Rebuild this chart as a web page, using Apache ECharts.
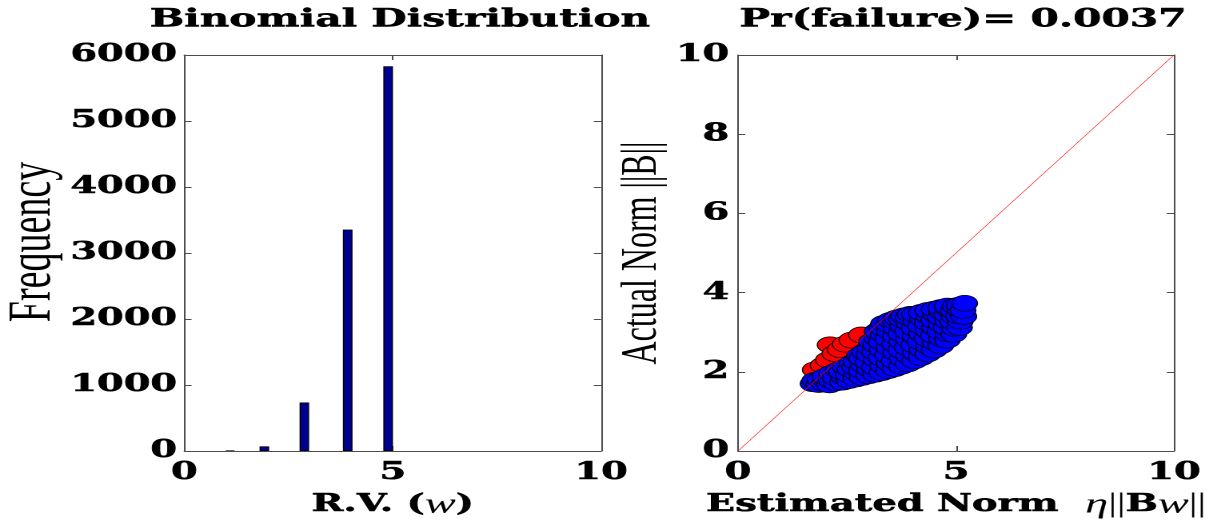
<!DOCTYPE html>
<html>
<head>
<meta charset="utf-8">
<script src="https://cdn.jsdelivr.net/npm/echarts@6/dist/echarts.min.js"></script>
<style>
  html, body { margin: 0; padding: 0; background: #fff; }
  #wrap { width: 1225px; height: 521px; overflow: hidden; background: #fff; }
  /* the figure is laid out narrow and stretched sideways */
  #chart { width: 766px; height: 521px; transform: scaleX(1.59922); transform-origin: 0 0; }
</style>
</head>
<body>
<div id="wrap"><div id="chart"></div></div>
<script>
// Histogram of the random variable w
const binCenters = [1.1, 1.92, 2.88, 3.92, 4.89];
const frequency = [10, 70, 735, 3355, 5830];

// Estimated vs actual norm: failures (actual above estimate) and passes
const failPoints = [
  [1.77, 2.05], [1.95, 2.16], [2.07, 2.30], [2.11, 2.68], [2.22, 2.46],
  [2.34, 2.56], [2.46, 2.70], [2.61, 2.80], [2.83, 2.93]
];
const passPoints = [
  [1.72, 1.70], [1.76, 1.78],
  [1.85, 1.68], [1.88, 1.80],
  [1.98, 1.70], [2.01, 1.80], [1.99, 1.88],
  [2.10, 1.67], [2.13, 1.79], [2.14, 1.96],
  [2.25, 1.72], [2.23, 1.86], [2.30, 2.04],
  [2.40, 1.74], [2.42, 1.88], [2.38, 2.00], [2.46, 2.12],
  [2.55, 1.78], [2.53, 1.93], [2.57, 2.06], [2.62, 2.22],
  [2.70, 1.82], [2.72, 1.98], [2.68, 2.12], [2.71, 2.26], [2.78, 2.40],
  [2.85, 1.86], [2.83, 2.03], [2.87, 2.18], [2.84, 2.34], [2.90, 2.50],
  [3.00, 1.90], [3.02, 2.07], [2.98, 2.25], [3.01, 2.43], [3.03, 2.60], [3.06, 2.76],
  [3.15, 1.94], [3.13, 2.12], [3.17, 2.31], [3.14, 2.50], [3.16, 2.68], [3.18, 2.86], [3.19, 3.02],
  [3.30, 1.98], [3.32, 2.16], [3.28, 2.36], [3.31, 2.55], [3.29, 2.75], [3.33, 2.95], [3.30, 3.12], [3.34, 3.22],
  [3.45, 2.03], [3.47, 2.22], [3.43, 2.42], [3.46, 2.62], [3.44, 2.82], [3.48, 3.02], [3.45, 3.20], [3.50, 3.30],
  [3.60, 2.08], [3.58, 2.28], [3.62, 2.48], [3.59, 2.70], [3.61, 2.90], [3.63, 3.10], [3.60, 3.28], [3.64, 3.36],
  [3.75, 2.14], [3.77, 2.34], [3.73, 2.55], [3.76, 2.76], [3.74, 2.96], [3.78, 3.16], [3.75, 3.34], [3.80, 3.41],
  [3.90, 2.20], [3.92, 2.40], [3.88, 2.62], [3.91, 2.82], [3.89, 3.02], [3.93, 3.22], [3.90, 3.38], [3.95, 3.45],
  [4.05, 2.28], [4.07, 2.48], [4.03, 2.68], [4.06, 2.90], [4.04, 3.10], [4.08, 3.28], [4.05, 3.45],
  [4.20, 2.36], [4.22, 2.56], [4.18, 2.76], [4.21, 2.96], [4.19, 3.16], [4.23, 3.34], [4.20, 3.50],
  [4.35, 2.45], [4.37, 2.64], [4.33, 2.84], [4.36, 3.04], [4.34, 3.24], [4.38, 3.40], [4.35, 3.55],
  [4.50, 2.55], [4.52, 2.74], [4.48, 2.92], [4.51, 3.12], [4.49, 3.30], [4.53, 3.46], [4.50, 3.58],
  [4.65, 2.66], [4.67, 2.84], [4.63, 3.02], [4.66, 3.20], [4.64, 3.38], [4.68, 3.52], [4.65, 3.62],
  [4.80, 2.80], [4.82, 2.96], [4.78, 3.12], [4.81, 3.28], [4.79, 3.44], [4.83, 3.58], [4.80, 3.66],
  [4.95, 2.95], [4.97, 3.10], [4.93, 3.26], [4.96, 3.40], [4.94, 3.54], [4.98, 3.66],
  [5.08, 3.12], [5.10, 3.28], [5.06, 3.42], [5.09, 3.56], [5.07, 3.68],
  [5.18, 3.40], [5.16, 3.55], [5.20, 3.73]
];
// y = x reference line
const identityLine = [[0, 0], [10, 10]];
const failureRate = 0.0037;

const boldSerif = 'DejaVu Serif';
const axisColor = '#4d4d4d';
// heavy bold text: DejaVu Serif Bold with a thin outline in the same colour
const heavy = { fontFamily: boldSerif, fontWeight: 'bold', color: '#000', textBorderColor: '#000', textBorderWidth: 0.5 };
const tickLabel = Object.assign({ fontSize: 24, lineHeight: 18 }, heavy);

function boxAxis(extra) {
  return Object.assign({
    type: 'value',
    axisLine: { show: true, onZero: false, lineStyle: { color: axisColor, width: 1 } },
    axisTick: { show: true, inside: true, length: 4.5, lineStyle: { color: axisColor, width: 1 } },
    splitLine: { show: false },
    axisLabel: { show: false }
  }, extra);
}

const nameRich = {
  b: Object.assign({ fontSize: 24 }, heavy),
  i: { fontFamily: 'Liberation Serif', fontStyle: 'italic', fontSize: 29, color: '#000' },
  n: { fontFamily: 'Liberation Serif', fontSize: 27, color: '#000' }
};

const chart = echarts.init(document.getElementById('chart'), null, {
  renderer: 'canvas', devicePixelRatio: 2, width: 766, height: 521
});

chart.setOption({
  animation: false,
  backgroundColor: '#fff',
  title: [
    {
      text: 'Binomial Distribution', left: 245.1, top: 2, textAlign: 'center',
      textStyle: Object.assign({ fontSize: 25.5 }, heavy)
    },
    {
      text: 'Pr(failure)= ' + failureRate.toFixed(4), left: 597.2, top: 2, textAlign: 'center',
      textStyle: Object.assign({ fontSize: 25.5 }, heavy)
    }
  ],
  grid: [
    { left: 115.25, top: 55, width: 260.6, height: 396, outerBoundsMode: 'none' },
    { left: 461.5, top: 55, width: 272.6, height: 396, outerBoundsMode: 'none' }
  ],
  xAxis: [
    boxAxis({
      gridIndex: 0, position: 'bottom', min: 0, max: 10, interval: 5,
      axisTick: { show: true, inside: true, length: 5, lineStyle: { color: axisColor } },
      axisLabel: Object.assign({ show: true, margin: 13 }, tickLabel),
      name: '{b|R.V. (}{i|w}{b|)}', nameLocation: 'middle', nameGap: 33,
      nameTextStyle: { rich: nameRich }
    }),
    boxAxis({ gridIndex: 0, position: 'top', min: 0, max: 10, interval: 5,
      axisTick: { show: true, inside: true, length: 5, lineStyle: { color: axisColor } } }),
    boxAxis({
      gridIndex: 1, position: 'bottom', min: 0, max: 10, interval: 5,
      axisTick: { show: true, inside: true, length: 5, lineStyle: { color: axisColor } },
      axisLabel: Object.assign({ show: true, margin: 13 }, tickLabel),
      name: '{b|Estimated Norm  }{i|η}{n|||}{b|B}{i|w}{n|||}', nameLocation: 'middle', nameGap: 33,
      nameTextStyle: { rich: nameRich }
    }),
    boxAxis({ gridIndex: 1, position: 'top', min: 0, max: 10, interval: 5,
      axisTick: { show: true, inside: true, length: 5, lineStyle: { color: axisColor } } })
  ],
  yAxis: [
    boxAxis({
      gridIndex: 0, position: 'left', min: 0, max: 6000, interval: 1000,
      axisLabel: Object.assign({ show: true, margin: 4.5, formatter: v => String(v) }, tickLabel),
      name: 'Frequency', nameLocation: 'middle', nameGap: 75, nameRotate: 90,
      nameTextStyle: { fontFamily: 'Liberation Serif', fontSize: 38, color: '#000', padding: [0, 0, 0, 22] }
    }),
    boxAxis({ gridIndex: 0, position: 'right', min: 0, max: 6000, interval: 1000 }),
    boxAxis({
      gridIndex: 1, position: 'left', min: 0, max: 10, interval: 2,
      axisLabel: Object.assign({ show: true, margin: 5.5, formatter: v => String(v) }, tickLabel),
      name: 'Actual Norm ||B||', nameLocation: 'middle', nameGap: 44, nameRotate: 90,
      nameTextStyle: { fontFamily: 'Liberation Serif', fontSize: 32, color: '#000' }
    }),
    boxAxis({ gridIndex: 1, position: 'right', min: 0, max: 10, interval: 2 })
  ],
  series: [
    {
      type: 'bar', xAxisIndex: 0, yAxisIndex: 0, barWidth: 6,
      data: binCenters.map((x, i) => [x, frequency[i]]),
      itemStyle: { color: '#00008f', borderColor: '#000', borderWidth: 0.7 }
    },
    {
      type: 'scatter', xAxisIndex: 2, yAxisIndex: 2, z: 2, symbol: 'circle', symbolSize: 16,
      data: failPoints,
      itemStyle: { color: '#ff0000', borderColor: '#000', borderWidth: 0.7, opacity: 1 }
    },
    {
      type: 'scatter', xAxisIndex: 2, yAxisIndex: 2, z: 3, symbol: 'circle', symbolSize: 16,
      data: passPoints,
      itemStyle: { color: '#0000ff', borderColor: '#000', borderWidth: 0.7, opacity: 1 }
    },
    {
      type: 'line', xAxisIndex: 2, yAxisIndex: 2, z: 4, symbol: 'none', silent: true,
      data: identityLine,
      lineStyle: { color: '#ff0000', width: 0.5 }
    }
  ]
});
</script>
</body>
</html>
